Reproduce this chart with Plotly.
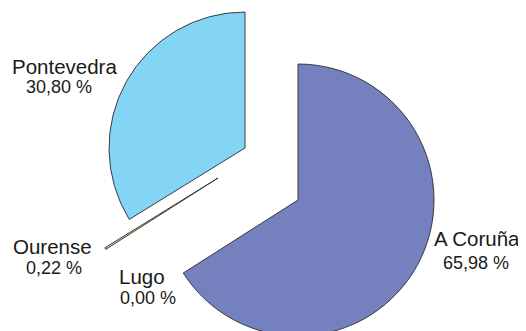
import plotly.graph_objects as go

# ---- data ----
regions = ["A Coruña", "Lugo", "Ourense", "Pontevedra"]
label_pct = [65.98, 0.00, 0.22, 30.80]          # percentages printed on the chart
slice_share = [65.98, 0.00, 0.22, 33.80]        # angular share as drawn

# ---- styles / layout (not data) ----
colors = ["#7580BE", "#7580BE", "#E3DA98", "#84D4F6"]
W, H = 526, 331
OFF = 8  # page body margin offsets the figure inside the window
# exploded pieces: centre x, centre y (window px), radius px
geom = {0: (298, 200, 136), 2: (218, 178, 133), 3: (245, 148, 136)}


def px(x):
    return (x - OFF) / W


def py(y):
    return 1 - (y - OFF) / H


fig = go.Figure()
for k, (cx, cy, r) in geom.items():
    mcols = [colors[i] if i == k else "rgba(0,0,0,0)" for i in range(len(regions))]
    lw = [0.9 if i == k else 0 for i in range(len(regions))]
    fig.add_trace(go.Pie(
        labels=regions, values=slice_share, sort=False, direction="clockwise",
        rotation=0, textinfo="none", showlegend=False,
        marker=dict(colors=mcols, line=dict(color="#2a2a2a", width=lw)),
        domain=dict(x=[px(cx - r), px(cx + r)], y=[py(cy + r), py(cy - r)]),
        hovertemplate="%{label}<extra></extra>",
    ))

# label placement (window px: name x, name y, value x, value y, x-anchor)
label_pos = {0: (522, 238, 511, 263, "right"), 1: (142, 276, 148, 297.5, "center"),
             2: (52, 246, 54, 268, "center"), 3: (64, 66.5, 59, 87, "center")}
for i, name in enumerate(regions):
    nx, ny, vx, vy, anc = label_pos[i]
    pct = f"{label_pct[i]:.2f}".replace(".", ",") + " %"
    fig.add_annotation(x=px(nx), y=py(ny), xref="paper", yref="paper", text=name,
                       showarrow=False, xanchor=anc, yanchor="middle",
                       font=dict(family="Liberation Sans, Arial", size=20.5, color="#1a1a1a"))
    fig.add_annotation(x=px(vx), y=py(vy), xref="paper", yref="paper", text=pct,
                       showarrow=False, xanchor=anc, yanchor="middle",
                       font=dict(family="Liberation Sans, Arial", size=18, color="#1a1a1a"))

fig.update_layout(width=W, height=H, margin=dict(l=0, r=0, t=0, b=0),
                  paper_bgcolor="white", plot_bgcolor="white")
fig.write_html("out.html")
